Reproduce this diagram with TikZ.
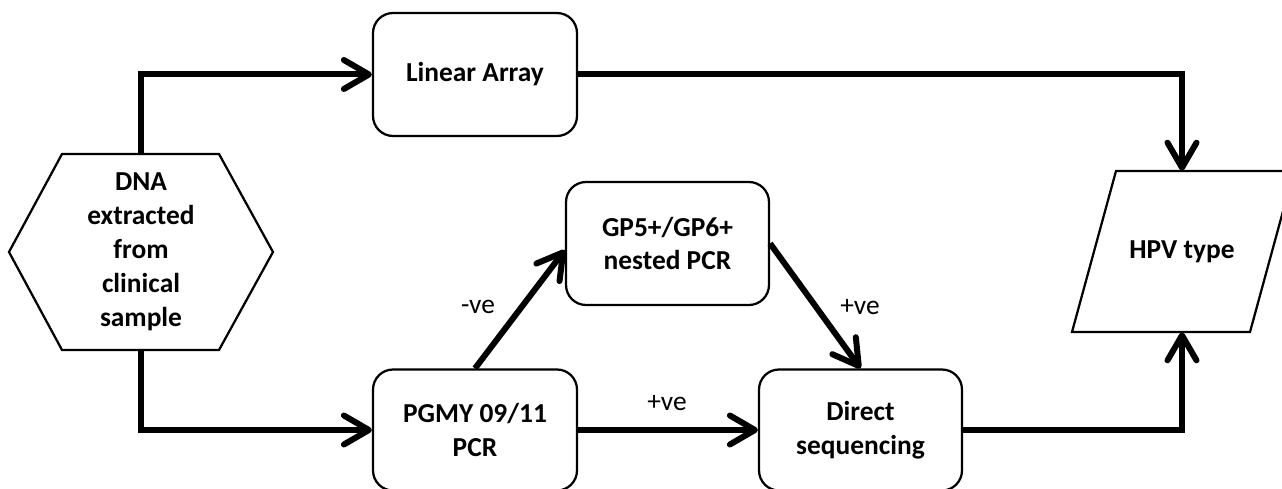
\documentclass[tikz,border=0pt]{standalone}
\usepackage{fontspec}
\setmainfont{Carlito}
\usetikzlibrary{arrows.meta,calc}
\begin{document}
\begin{tikzpicture}[x=0.02cm,y=-0.02cm,
  every node/.style={font=\fontsize{15.6}{19.3}\selectfont},
  box/.style={draw,line width=0.045cm,rounded corners=0.4cm,align=center,font=\fontsize{15.6}{19.3}\selectfont\bfseries,inner sep=0pt},
  shapeline/.style={draw,line width=0.045cm,line join=miter},
  arr/.style={line width=0.12cm,-{Straight Barb[round,length=0.5cm,width=0.58cm]}},
  lbl/.style={font=\fontsize{15.6}{19.3}\selectfont}]
\useasboundingbox (0,0) rectangle (1282,489);
\clip (0,0) rectangle (1282,489);
% hexagon
\draw[shapeline] (9,252) -- (62,154) -- (219,154) -- (273,252) -- (219,350) -- (62,350) -- cycle;
\node[align=center,font=\fontsize{15.6}{19.3}\selectfont\bfseries,minimum width=5.28cm,minimum height=3.92cm,inner sep=0pt] (dna) at (141,252) {DNA\\extracted\\from\\clinical\\sample};
% parallelogram
\draw[shapeline] (1116,171) -- (1294,171) -- (1250,332) -- (1072,332) -- cycle;
\node[font=\fontsize{15.6}{19.3}\selectfont\bfseries,minimum height=3.22cm,inner sep=0pt] (hpv) at (1182,251.5) {HPV type};
% boxes
\node[box,minimum width=4.08cm,minimum height=2.46cm] (lin) at (475,74.5) {Linear Array};
\node[box,minimum width=4.08cm,minimum height=2.42cm] (pgmy) at (475,430) {PGMY 09/11\\PCR};
\node[box,minimum width=4.06cm,minimum height=2.46cm] (gp) at (667.5,243.5) {GP5+/GP6+\\nested PCR};
\node[box,minimum width=4.06cm,minimum height=2.42cm] (dir) at (860.5,430) {Direct\\sequencing};
% connectors
\draw[arr] (dna.north) |- (lin.west);
\draw[arr] (lin.east) -| (hpv.north);
\draw[arr] (dna.south) |- (pgmy.west);
\draw[arr] (pgmy.east) -- (dir.west);
\draw[arr] (pgmy.north) -- ([yshift=-0.13cm]gp.west);
\draw[arr] (gp.east) -- (dir.north);
\draw[arr] (dir.east) -| (hpv.south);
% labels
\node[lbl] (l1) at (478,307) {-ve};
\node[lbl] (l2) at (667,403) {+ve};
\node[lbl] (l3) at (860,307) {+ve};
\end{tikzpicture}
\end{document}
